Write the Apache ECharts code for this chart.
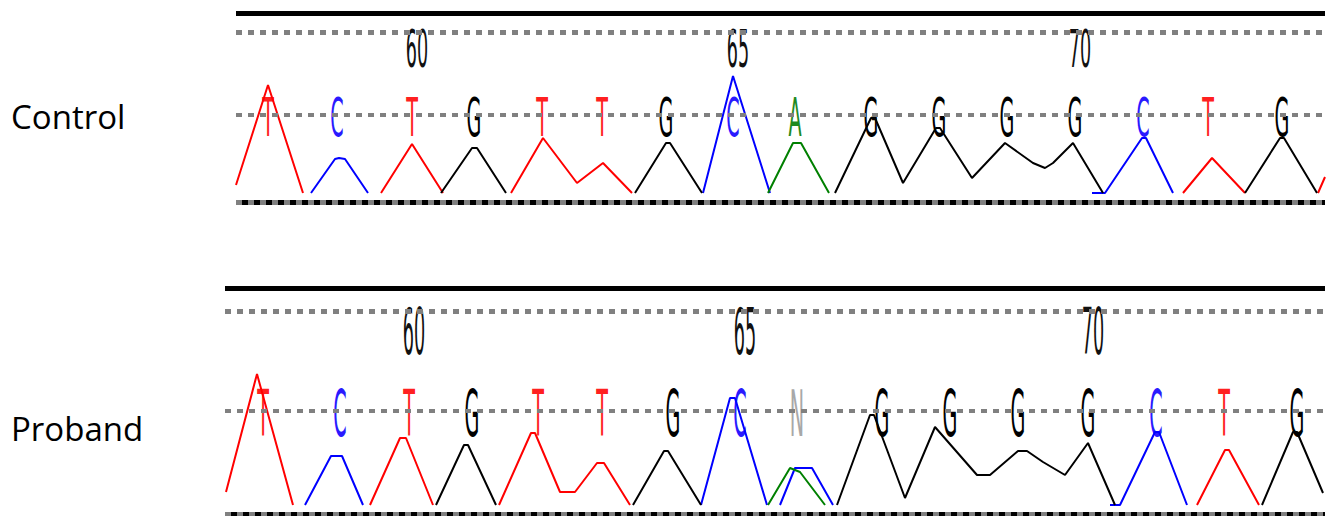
<!DOCTYPE html>
<html>
<head>
<meta charset="utf-8">
<script src="https://cdn.jsdelivr.net/npm/echarts@6/dist/echarts.min.js"></script>
<style>
html,body{margin:0;padding:0;background:#fff;}
#chart{width:1328px;height:516px;}
</style>
</head>
<body>
<div id="chart"></div>
<script>
// ---------------- DATA ----------------
const panelNames = ['Control', 'Proband'];
const basePositions = [58, 59, 60, 61, 62, 63, 64, 65, 66, 67, 68, 69, 70, 71, 72, 73];
const tickPositions = [60, 65, 70];

const controlBases = ['T','C','T','G','T','T','G','C','A','G','G','G','G','C','T','G'];
const probandBases = ['T','C','T','G','T','T','G','C','N','G','G','G','G','C','T','G'];

// scan position of each base call
const controlCallScans = [32, 101, 176, 238, 306, 366, 430, 497, 559, 635, 703, 771, 839, 907, 972, 1046];
const probandCallScans = [38, 115, 184, 247, 313, 377, 448, 515, 572, 657, 725, 793, 863, 931, 999, 1072];

// traces: [scan, intensity], null = gap
const controlTraceT = [[0,80],[32,1080],[67,0], null,
  [145,0],[176,490],[207,0], null,
  [275,0],[307,550],[341,100],[367,300],[396,0], null,
  [947,0],[976,350],[1009,0], null,
  [1082,0],[1089,160]];
const controlTraceC = [[75,0],[99,340],[103,350],[109,340],[132,0], null,
  [467,0],[497,1170],[534,0], null,
  [856,0],[869,0],[906,550],[910,550],[937,0]];
const controlTraceG = [[205,0],[236,450],[241,450],[270,0], null,
  [399,0],[430,500],[434,500],[466,0], null,
  [599,0],[635,750],[639,750],[667,100],[700,650],[704,650],[736,150],[769,500],[797,300],[809,250],[817,300],[837,500],[867,0], null,
  [1009,0],[1044,550],[1048,550],[1081,0]];
const controlTraceA = [[532,0],[557,500],[565,500],[593,0]];

const probandTraceT = [[1,130],[32,1310],[68,0], null,
  [145,0],[175,670],[181,670],[208,0], null,
  [274,0],[306,720],[310,720],[335,130],[350,130],[372,420],[379,420],[405,0], null,
  [972,0],[1000,550],[1004,550],[1034,0]];
const probandTraceC = [[80,0],[106,490],[117,490],[138,0], null,
  [476,0],[505,1070],[510,1070],[542,0], null,
  [555,0],[570,370],[587,370],[608,0], null,
  [885,0],[895,0],[930,730],[934,730],[962,0]];
const probandTraceG = [[211,0],[239,600],[243,600],[271,0], null,
  [408,0],[439,540],[443,540],[476,0], null,
  [612,0],[645,900],[649,900],[680,70],[710,780],[752,300],[765,300],[793,540],[802,540],[818,430],[840,300],[863,620],[890,0], null,
  [1037,0],[1068,730],[1072,730],[1098,120]];
const probandTraceA = [[543,0],[565,370],[575,330],[600,0]];

// ---------------- STYLE ----------------
const traceColors = { A: '#008000', C: '#0000ff', G: '#000000', T: '#ff0000' };
const letterColors = { A: '#1f8a1f', C: '#2a1aff', G: '#000000', T: '#ff2020', N: '#a8a8a8' };

const panels = [
  { name: panelNames[0], bases: controlBases, scans: controlCallScans,
    traces: { A: controlTraceA, C: controlTraceC, G: controlTraceG, T: controlTraceT },
    grid: { left: 236, top: 13, width: 1089, height: 190 }, xMax: 1089, yMin: -100, yMax: 1800,
    lines: { thick: 1795, dotTop: 1605, dotMid: 780, bottom: -95 },
    letterLevel: 755, numLevel: 1440, letterScale: 3.3, numScale: 3.25,
    labelY: 116 },
  { name: panelNames[1], bases: probandBases, scans: probandCallScans,
    traces: { A: probandTraceA, C: probandTraceC, G: probandTraceG, T: probandTraceT },
    grid: { left: 225, top: 288, width: 1100, height: 227 }, xMax: 1100, yMin: -100, yMax: 2170,
    lines: { thick: 2165, dotTop: 1935, dotMid: 945, bottom: -95 },
    letterLevel: 915, numLevel: 1730, letterScale: 4.0, numScale: 3.95,
    labelY: 428 }
];

function toLine(arr) {
  return arr.map(p => p === null ? ['-', '-'] : p);
}

const grids = [], xAxes = [], yAxes = [], series = [], graphics = [];

panels.forEach((pn, pi) => {
  grids.push(Object.assign({ containLabel: false }, pn.grid));
  xAxes.push({ type: 'value', gridIndex: pi, min: 0, max: pn.xMax, show: false, splitLine: { show: false } });
  yAxes.push({ type: 'value', gridIndex: pi, min: pn.yMin, max: pn.yMax, show: false, splitLine: { show: false } });

  // reference lines
  series.push({
    type: 'line', xAxisIndex: pi, yAxisIndex: pi, data: [], silent: true,
    markLine: {
      silent: true, symbol: 'none', animation: false,
      label: { show: false },
      emphasis: { disabled: true },
      data: [
        { yAxis: pn.lines.thick, lineStyle: { color: '#000', width: 5, type: 'solid' } },
        { yAxis: pn.lines.dotTop, lineStyle: { color: '#808080', width: 5, type: [6, 6] } },
        { yAxis: pn.lines.dotMid, lineStyle: { color: '#808080', width: 4, type: [6, 6] } },
        { yAxis: pn.lines.bottom, lineStyle: { color: '#808080', width: 5, type: 'solid' } },
        { yAxis: pn.lines.bottom, lineStyle: { color: '#000', width: 5, type: [6, 6], dashOffset: 6 } }
      ]
    }
  });

  // traces
  ['T', 'C', 'G', 'A'].forEach(b => {
    series.push({
      type: 'line', xAxisIndex: pi, yAxisIndex: pi,
      data: toLine(pn.traces[b]), showSymbol: false, symbol: 'none',
      connectNulls: false, silent: true, animation: false,
      lineStyle: { color: traceColors[b], width: 2 }
    });
  });

  // base letters
  series.push({
    type: 'custom', xAxisIndex: pi, yAxisIndex: pi, silent: true, animation: false,
    data: pn.scans.map(s => [s, pn.letterLevel]),
    renderItem: function (params, api) {
      const p = api.coord([api.value(0), api.value(1)]);
      const b = pn.bases[params.dataIndex];
      return {
        type: 'text', x: p[0], y: p[1], scaleX: 1.2, scaleY: pn.letterScale,
        style: { text: b, fill: letterColors[b], fontSize: 16, fontFamily: 'DejaVu Sans',
          align: 'center', verticalAlign: 'middle' }
      };
    }
  });

  // position numbers
  series.push({
    type: 'custom', xAxisIndex: pi, yAxisIndex: pi, silent: true, animation: false,
    data: tickPositions.map(t => [pn.scans[basePositions.indexOf(t)], pn.numLevel]),
    renderItem: function (params, api) {
      const p = api.coord([api.value(0), api.value(1)]);
      return {
        type: 'text', x: p[0] + 5, y: p[1], scaleX: 1.1, scaleY: pn.numScale,
        style: { text: String(tickPositions[params.dataIndex]), fill: '#111', fontSize: 16,
          fontFamily: 'DejaVu Sans', align: 'center', verticalAlign: 'middle' }
      };
    }
  });

  graphics.push({
    type: 'text', x: 11, y: pn.labelY, silent: true,
    style: { text: pn.name, fill: '#000', fontSize: 33, fontFamily: 'Open Sans',
      verticalAlign: 'middle', align: 'left' }
  });
});

const chart = echarts.init(document.getElementById('chart'), null, { renderer: 'svg' });
chart.setOption({
  animation: false,
  backgroundColor: '#ffffff',
  grid: grids,
  xAxis: xAxes,
  yAxis: yAxes,
  series: series,
  graphic: graphics
});
</script>
</body>
</html>
